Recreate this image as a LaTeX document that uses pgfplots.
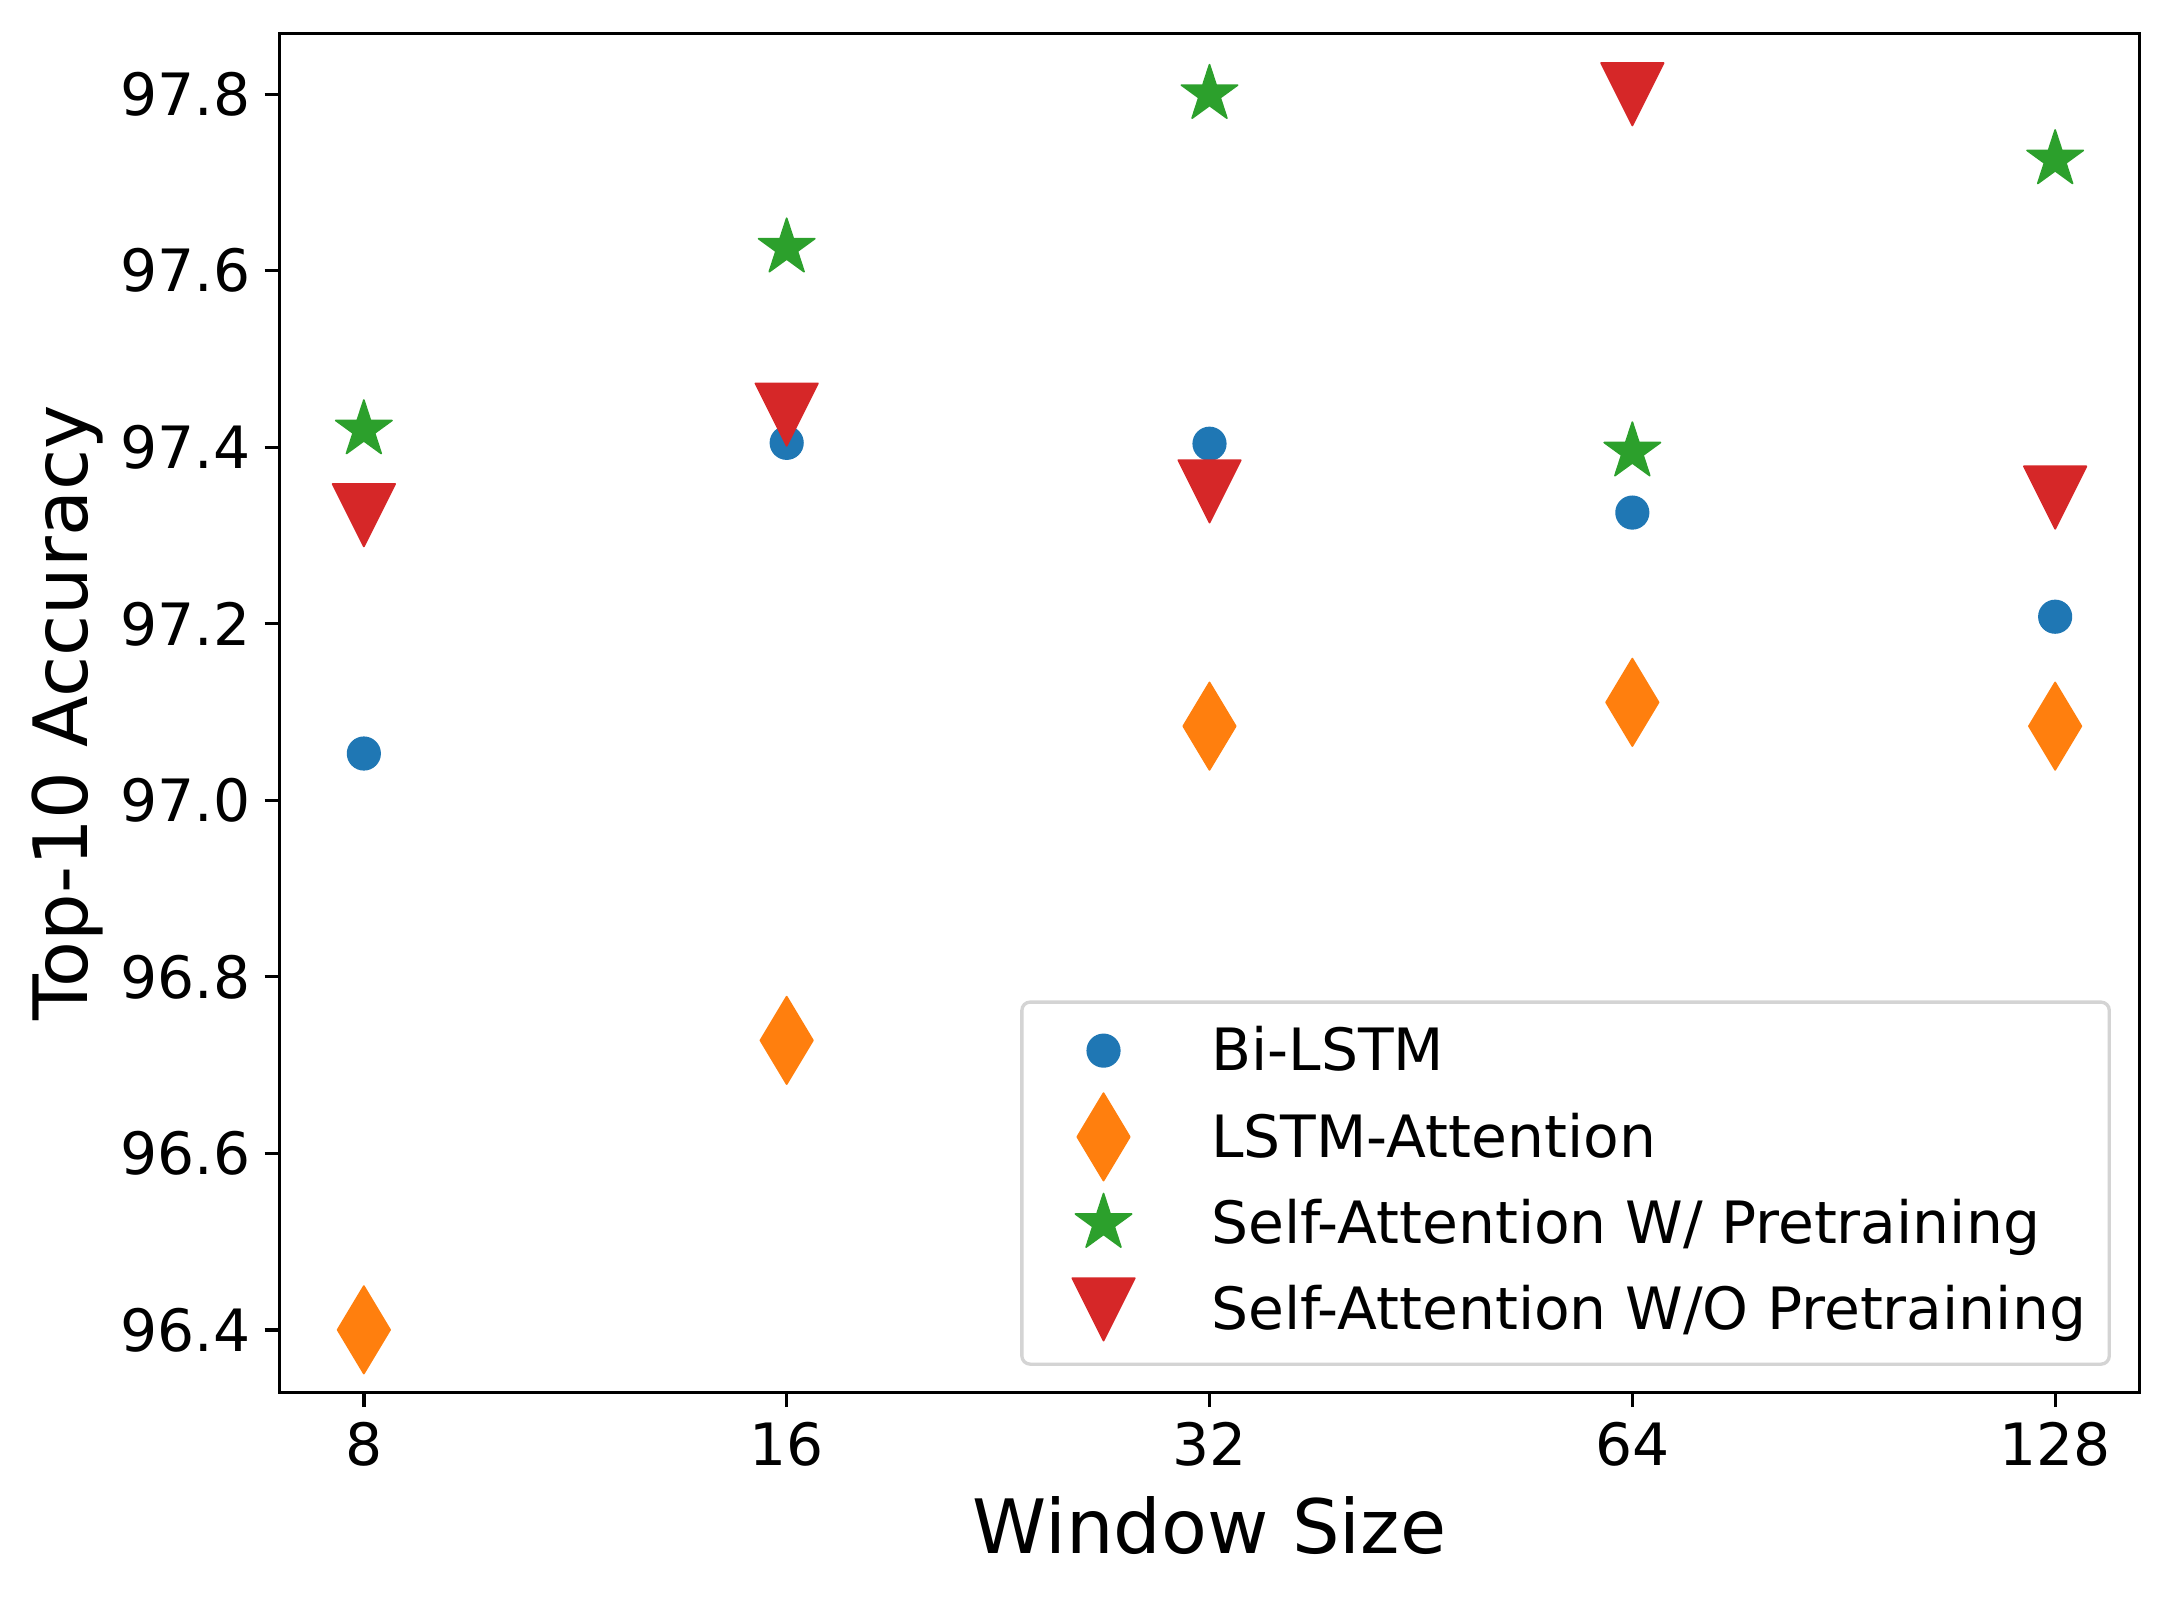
\documentclass[border=0pt]{standalone}
\usepackage{fontspec}
\setmainfont{DejaVu Sans}
\usepackage{pgfplots}
\pgfplotsset{compat=1.18}
\definecolor{c0}{HTML}{1F77B4}
\definecolor{c1}{HTML}{FF7F0E}
\definecolor{c2}{HTML}{2CA02C}
\definecolor{c3}{HTML}{D62728}
\pgfdeclareplotmark{mplcircle}{\pgfpathcircle{\pgfpointorigin}{3.9pt}\pgfusepathqfillstroke}
\pgfdeclareplotmark{mpldiamond}{%
  \pgfpathmoveto{\pgfqpoint{0pt}{10.5pt}}%
  \pgfpathlineto{\pgfqpoint{6.3pt}{0pt}}%
  \pgfpathlineto{\pgfqpoint{0pt}{-10.5pt}}%
  \pgfpathlineto{\pgfqpoint{-6.3pt}{0pt}}%
  \pgfpathclose\pgfusepathqfillstroke}
\pgfdeclareplotmark{mplstar}{%
  \pgfpathmoveto{\pgfpointpolar{90}{7.1pt}}%
  \pgfpathlineto{\pgfpointpolar{126}{2.712pt}}%
  \pgfpathlineto{\pgfpointpolar{162}{7.1pt}}%
  \pgfpathlineto{\pgfpointpolar{198}{2.712pt}}%
  \pgfpathlineto{\pgfpointpolar{234}{7.1pt}}%
  \pgfpathlineto{\pgfpointpolar{270}{2.712pt}}%
  \pgfpathlineto{\pgfpointpolar{306}{7.1pt}}%
  \pgfpathlineto{\pgfpointpolar{342}{2.712pt}}%
  \pgfpathlineto{\pgfpointpolar{18}{7.1pt}}%
  \pgfpathlineto{\pgfpointpolar{54}{2.712pt}}%
  \pgfpathclose\pgfusepathqfillstroke}
\pgfdeclareplotmark{mpltri}{%
  \pgfpathmoveto{\pgfqpoint{0pt}{-7.5pt}}%
  \pgfpathlineto{\pgfqpoint{-7.5pt}{7.5pt}}%
  \pgfpathlineto{\pgfqpoint{7.5pt}{7.5pt}}%
  \pgfpathclose\pgfusepathqfillstroke}
\begin{document}
\begin{tikzpicture}
\begin{axis}[
  scale only axis, width=446.5pt, height=326.2pt,
  xmin=-0.2, xmax=4.2, ymin=96.329, ymax=97.869,
  clip=false,
  xtick={0,1,2,3,4}, xticklabels={8,16,32,64,128},
  ytick={96.4,96.6,96.8,97.0,97.2,97.4,97.6,97.8},
  /pgf/number format/fixed, /pgf/number format/fixed zerofill, /pgf/number format/precision=1,
  /pgf/number format/assume math mode=true,
  tick align=outside, tick pos=left, major tick length=3.5pt,
  every tick/.style={black, line width=0.8pt},
  axis line style={line width=0.8pt},
  tick label style={font=\fontsize{14}{16.8}\selectfont},
  xticklabel style={anchor=north, inner sep=0pt, yshift=-3.4pt},
  yticklabel style={anchor=east, inner sep=0pt, xshift=-3.2pt},
  label style={font=\fontsize{18}{21.6}\selectfont},
  xlabel={Window Size}, ylabel={Top-10 Accuracy},
  xlabel style={at={(axis description cs:0.5,-0.1183)}, anchor=base, inner sep=0pt},
  ylabel style={at={(axis description cs:-0.10325,0.5)}, anchor=base, inner sep=0pt},
  legend cell align=left,
  legend style={at={(axis description cs:1,0)}, anchor=south east,
    xshift=-6.9pt, yshift=6.4pt,
    draw=black!17, line width=0.8pt, rounded corners=2pt,
    fill=white, fill opacity=0.8, text opacity=1,
    font=\fontsize{14}{16.8}\selectfont,
    inner xsep=5.6pt, inner ysep=5.4pt, row sep=6.7pt, column sep=11.9pt,
    cells={anchor=base west},
    nodes={inner sep=0pt, text height=11.1pt, text depth=2.9pt}},
  legend image code/.code={%
    \path[draw=none, fill=none] (-14pt,-2.9pt) rectangle (14pt,11.1pt);
    \draw[overlay,#1, fill opacity=1, draw opacity=1] plot coordinates {(0pt,4.85pt)};},
]
\addplot[only marks, mark=mplcircle, color=c0, mark options={line width=0.4pt, line join=round}]
  coordinates {(0,97.053) (1,97.405) (2,97.404) (3,97.326) (4,97.208)};
\addlegendentry{Bi-LSTM}
\addplot[only marks, mark=mpldiamond, color=c1, mark options={line width=0.4pt, line join=round}]
  coordinates {(0,96.400) (1,96.728) (2,97.084) (3,97.111) (4,97.084)};
\addlegendentry{LSTM-Attention}
\addplot[only marks, mark=mplstar, color=c2, mark options={line width=0.4pt, line join=round}]
  coordinates {(0,97.420) (1,97.626) (2,97.800) (3,97.395) (4,97.726)};
\addlegendentry{Self-Attention W/ Pretraining}
\addplot[only marks, mark=mpltri, color=c3, mark options={line width=0.4pt, line join=round}]
  coordinates {(0,97.323) (1,97.437) (2,97.350) (3,97.800) (4,97.343)};
\addlegendentry{Self-Attention W/O Pretraining}
\coordinate (bl) at (rel axis cs:0,0);
\coordinate (tr) at (rel axis cs:1,1);
\end{axis}
\pgfresetboundingbox
\useasboundingbox ([shift={(-67.03pt,-49.37pt)}]bl) rectangle ([shift={(7.75pt,8pt)}]tr);
\end{tikzpicture}
\end{document}
